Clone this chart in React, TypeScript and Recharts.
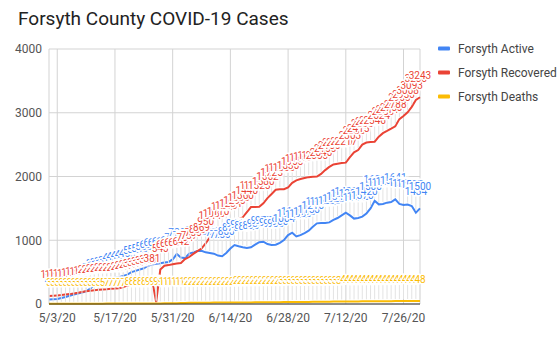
import { LineChart, Line, XAxis, YAxis, CartesianGrid, LabelList } from 'recharts';

// x axis = day index, 0 = 5/1/20
const dateTicks = [2, 16, 30, 44, 58, 72, 86];
const dateTickLabels = ['5/3/20', '5/17/20', '5/31/20', '6/14/20', '6/28/20', '7/12/20', '7/26/20'];
const valueTicks = [0, 1000, 2000, 3000, 4000];

const activeCases = [
    70, 75, 80, 95, 110, 130, 150, 165, 180, 200,
    240, 300, 310, 330, 350, 400, 410, 420, 440, 460,
    500, 520, 540, 560, 600, 620, 630, 640, 650, 660,
    700, 784, 730, 720, 790, 810, 830, 836, 810, 800,
    790, 760, 750, 800, 870, 925, 905, 890, 878, 890,
    930, 970, 977, 940, 925, 930, 960, 1004, 1080, 1118,
    1060, 1080, 1113, 1150, 1210, 1265, 1270, 1272, 1280, 1320,
    1349, 1390, 1432, 1390, 1340, 1350, 1370, 1420, 1500, 1620,
    1563, 1570, 1590, 1600, 1641, 1569, 1553, 1560, 1537, 1434,
    1500,
];

const recoveredCases = [
    125, 130, 135, 140, 148, 155, 165, 175, 188, 200,
    207, 215, 222, 228, 232, 238, 242, 248, 265, 290,
    305, 318, 330, 345, 360, 381, 30, 540, 600, 610,
    625, 635, 642, 704, 737, 786, 830, 869, 950, 1044,
    1080, 1110, 1188, 1210, 1234, 1290, 1330, 1360, 1440, 1520,
    1520, 1525, 1580, 1662, 1725, 1793, 1800, 1800, 1830, 1900,
    1940, 1960, 1976, 1990, 1995, 2000, 2040, 2100, 2150, 2190,
    2200, 2210, 2217, 2303, 2380, 2415, 2500, 2533, 2540, 2546,
    2624, 2680, 2714, 2750, 2788, 2900, 2950, 3008, 3093, 3200,
    3243,
];

const deathCases = [
    3, 3, 3, 3, 3, 3, 3, 3, 3, 3,
    3, 3, 3, 5, 7, 7, 7, 7, 7, 8,
    8, 8, 8, 8, 9, 9, 9, 9, 10, 11,
    12, 13, 15, 17, 20, 20, 20, 21, 21, 21,
    22, 22, 22, 23, 23, 23, 24, 24, 25, 25,
    26, 26, 27, 27, 28, 28, 29, 30, 30, 31,
    31, 32, 32, 33, 34, 35, 35, 36, 37, 38,
    38, 39, 40, 40, 41, 41, 42, 42, 43, 43,
    44, 44, 45, 45, 46, 46, 47, 47, 47, 48,
    48,
];

const seriesNames = ['Forsyth Active', 'Forsyth Recovered', 'Forsyth Deaths'];
const seriesKeys = ['active', 'recovered', 'deaths'];
const seriesColors = ['#4285f4', '#ea4335', '#fbbc04'];

const data = activeCases.map((active, d) => ({
    d,
    active,
    recovered: recoveredCases[d],
    deaths: deathCases[d],
}));

const FONT = 'Roboto';

// thin grey leader line from the label down to the point
const leader = (props: any) => {
    const { x, y, value } = props;
    if (value == null || x == null || y == null) return null;
    return <line x1={x} x2={x} y1={y - 16} y2={y - 2} stroke="#e3e3e3" strokeWidth={1} />;
};

// value label with a white halo, like the sheets annotations
const valueLabel = (color: string) => (props: any) => {
    const { x, y, value } = props;
    if (value == null || x == null || y == null) return null;
    return (
        <text
            x={x}
            y={y - 18}
            textAnchor="middle"
            fontSize={10}
            fontFamily={FONT}
            fill={color}
            stroke="#fff"
            strokeWidth={3}
            strokeLinejoin="round"
            paintOrder="stroke"
        >
            {value}
        </text>
    );
};

export default function App() {
    return (
        <div style={{ position: 'absolute', left: 0, top: 0, width: 558, height: 352, background: '#fff' }}>
            <LineChart width={558} height={352} data={data} margin={{ top: 49, right: 138, bottom: 0, left: 0 }}>
                <CartesianGrid stroke="#d3d3d3" />
                <XAxis
                    type="number"
                    dataKey="d"
                    domain={[0, 90]}
                    ticks={dateTicks}
                    tickFormatter={(v) => dateTickLabels[dateTicks.indexOf(v)]}
                    height={48}
                    tickSize={0}
                    tickMargin={9}
                    tickLine={false}
                    axisLine={{ stroke: '#333' }}
                    tick={{ fill: '#555', fontSize: 12, fontFamily: FONT }}
                />
                <YAxis
                    domain={[0, 4000]}
                    ticks={valueTicks}
                    width={49}
                    tickSize={0}
                    tickMargin={7}
                    tickLine={false}
                    axisLine={false}
                    tick={{ fill: '#555', fontSize: 12, fontFamily: FONT }}
                />
                {seriesKeys.map((key, i) => (
                    <Line
                        key={key}
                        type="linear"
                        dataKey={key}
                        stroke={seriesColors[i]}
                        strokeWidth={2}
                        dot={false}
                        activeDot={false}
                        isAnimationActive={false}
                    />
                ))}
                {seriesKeys.map((key) => (
                    <Line
                        key={`${key}-leader`}
                        dataKey={key}
                        stroke="none"
                        dot={false}
                        activeDot={false}
                        isAnimationActive={false}
                    >
                        <LabelList dataKey={key} content={leader} />
                    </Line>
                ))}
                {seriesKeys.map((key, i) => (
                    <Line
                        key={`${key}-label`}
                        dataKey={key}
                        stroke="none"
                        dot={false}
                        activeDot={false}
                        isAnimationActive={false}
                    >
                        <LabelList dataKey={key} content={valueLabel(seriesColors[i])} />
                    </Line>
                ))}
            </LineChart>
            <svg width={558} height={352} style={{ position: 'absolute', left: 0, top: 0, pointerEvents: 'none' }}>
                <text x={18} y={25} fontSize={19} fontFamily={FONT} fill="#222">
                    Forsyth County COVID-19 Cases
                </text>
                {seriesNames.map((name, i) => (
                    <g key={name}>
                        <rect x={438} y={46.5 + i * 24} width={12} height={4} rx={1} fill={seriesColors[i]} />
                        <text x={458} y={52.5 + i * 24} fontSize={12} fontFamily={FONT} fill="#444">
                            {name}
                        </text>
                    </g>
                ))}
            </svg>
        </div>
    );
}
